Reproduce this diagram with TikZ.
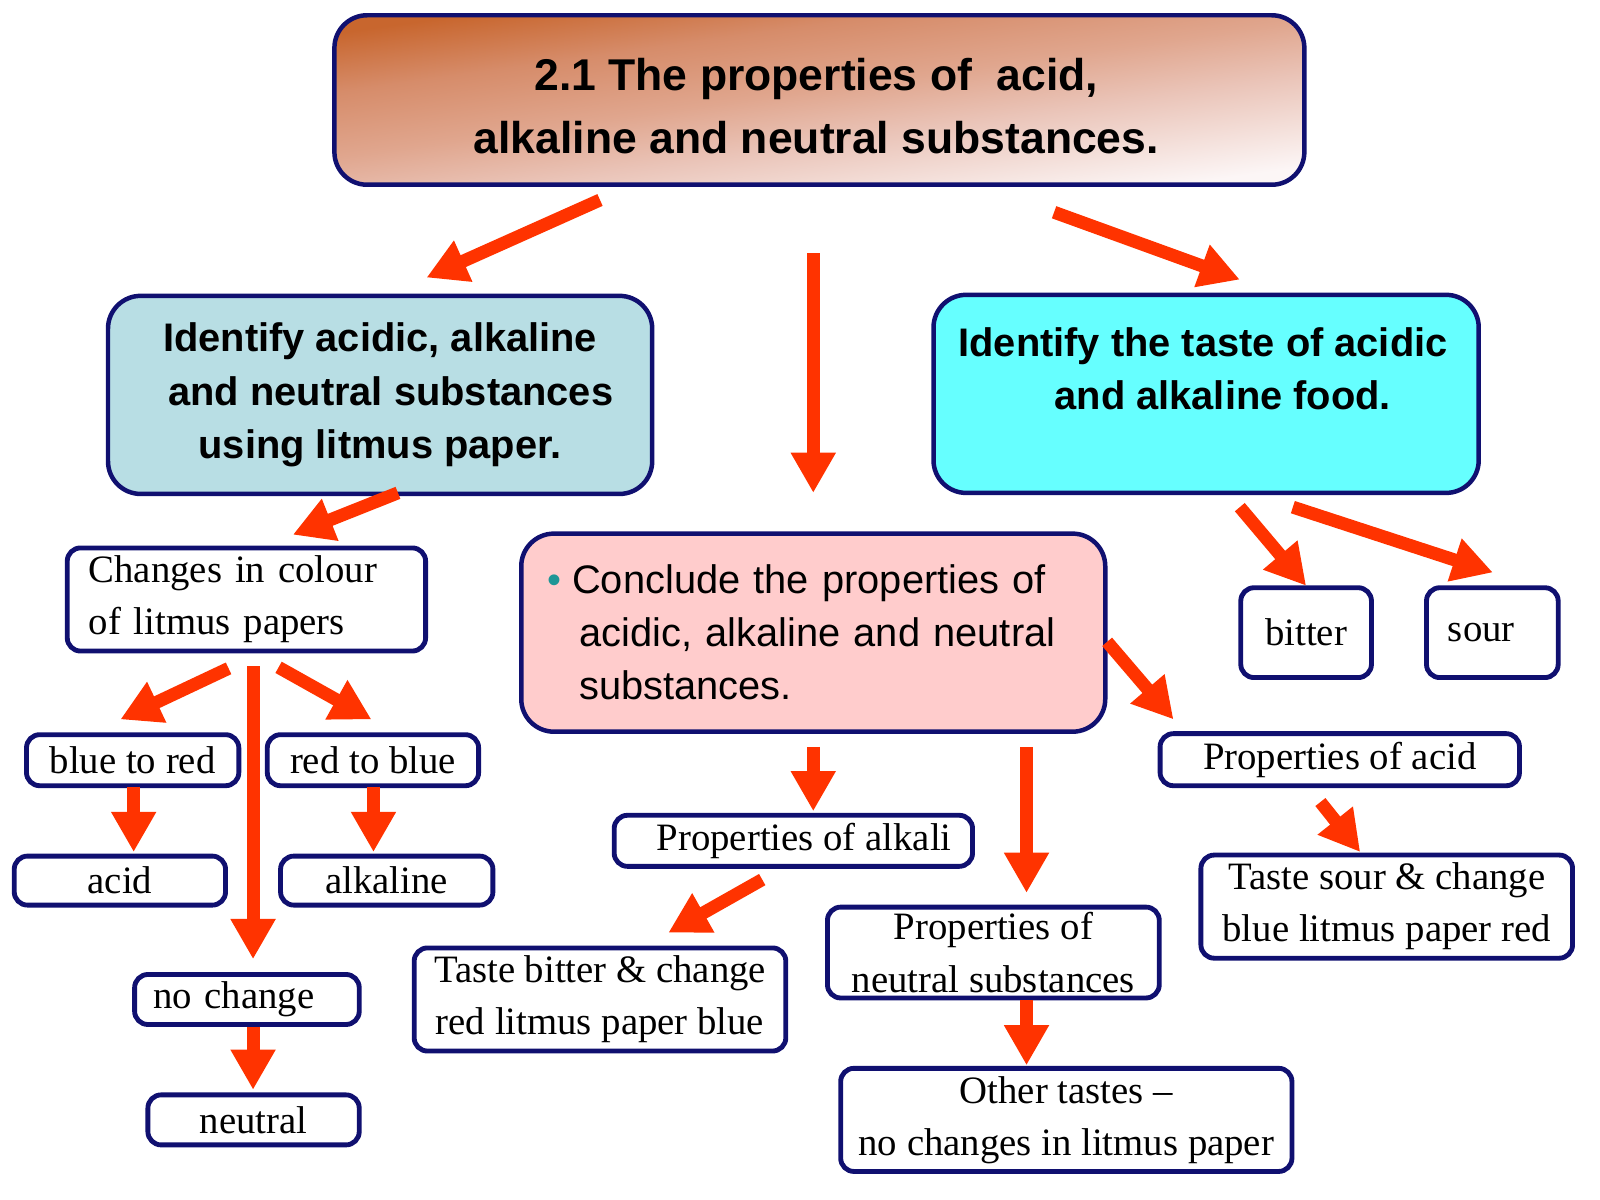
\documentclass[tikz,border=0pt]{standalone}
\usepackage{fontspec}
\setmainfont{Liberation Serif}
\newfontfamily\arialf{Liberation Sans}
\usetikzlibrary{arrows.meta}
\definecolor{navy}{RGB}{16,16,112}
\definecolor{arrowred}{RGB}{255,51,0}
\definecolor{boxblue}{RGB}{184,222,228}
\definecolor{boxcyan}{RGB}{102,255,255}
\definecolor{boxpink}{RGB}{255,204,204}
\definecolor{bulletc}{RGB}{30,150,150}
\definecolor{titleA}{RGB}{200,102,46}
\definecolor{titleS}{RGB}{214,140,106}
\definecolor{titleM}{RGB}{224,166,142}
\definecolor{titleL}{RGB}{234,196,184}
\definecolor{titleW}{RGB}{252,246,246}
\pgfdeclareverticalshading{titleshade}{100bp}{color(0bp)=(titleW); color(25bp)=(titleW); color(42bp)=(titleL); color(52bp)=(titleM); color(64bp)=(titleS); color(75bp)=(titleA); color(100bp)=(titleA)}
\newcommand\sansbold{\arialf\bfseries\fontsize{11.1}{14.8}\selectfont}
\newcommand\sansreg{\arialf\fontsize{11.1}{14.8}\selectfont}
\newcommand\seriftxt{\fontsize{10.8}{14.5}\selectfont}
\begin{document}
\begin{tikzpicture}[x=0.01cm,y=-0.01cm,
  bigbox/.style={draw=navy, line width=1.25pt, rounded corners=0.32cm, inner sep=0pt, align=center, font=\sansbold},
  wbox/.style={draw=navy, line width=1.35pt, fill=white, rounded corners=0.13cm, inner sep=0pt, align=center, font=\seriftxt},
  arr/.style={draw=arrowred, line width=3.6pt, -{Triangle[length=11.2pt,width=11.8pt]}},
]
\useasboundingbox (0,0) rectangle (1568,1176);

% main boxes
\node[bigbox, shade, shading=titleshade, shading angle=8,
      minimum width=9.50cm, minimum height=1.66cm] (title) at (803,98) {};
\node[font=\arialf\bfseries\fontsize{12.4}{17.4}\selectfont, align=center, inner sep=0pt] (titletext) at (800,104)
  {2.1 The properties of\ \ acid,\\alkaline and neutral substances.};
\node[bigbox, fill=boxblue, minimum width=5.33cm, minimum height=1.94cm] (ident) at (372.5,387)
  {Identify acidic, alkaline\\\hspace*{6pt}and neutral substances\\using litmus paper.};
\node[bigbox, fill=boxcyan, minimum width=5.34cm, minimum height=1.94cm] (taste) at (1182,386) {};
\node[font=\sansbold, align=center, inner sep=0pt] (tastetext) at (1179,361)
  {Identify the taste of acidic\\\hspace*{11pt}and alkaline food.};
\node[bigbox, fill=boxpink, minimum width=5.72cm, minimum height=1.94cm, font=\sansreg,
      align=left, text width=5.20cm] (concl) at (797,620)
  {\makebox[6.8pt][l]{\textcolor{bulletc}{•}}Conclude the properties of\\
   \hspace*{8.8pt}acidic, alkaline and neutral\\
   \hspace*{8.8pt}substances.};

% left branch
\node[wbox, minimum width=3.51cm, minimum height=1.01cm, align=left, text width=3.09cm] (changes) at (241.5,587.5)
  {Changes in colour\\of litmus papers};
\node[wbox, minimum width=2.08cm, minimum height=0.50cm] (b2r) at (130,745) {blue to red};
\node[wbox, minimum width=2.07cm, minimum height=0.50cm] (r2b) at (365.5,745) {red to blue};
\node[wbox, minimum width=2.07cm, minimum height=0.48cm] (acid) at (117.5,863) {acid};
\node[wbox, minimum width=2.08cm, minimum height=0.48cm] (alkaline) at (379,863) {alkaline};
\node[wbox, minimum width=2.20cm, minimum height=0.49cm, align=left, text width=1.84cm] (nochange) at (242,979.5) {no change};
\node[wbox, minimum width=2.07cm, minimum height=0.49cm] (neutral) at (248.5,1097.5) {neutral};

% centre branch
\node[wbox, minimum width=3.51cm, minimum height=0.50cm] (propalk) at (777.5,824) {\hspace*{6pt}Properties of\ alkali};
\node[wbox, minimum width=3.64cm, minimum height=1.01cm] (tastebit) at (588,979.5)
  {Taste bitter \& change\\red litmus paper blue};
\node[wbox, minimum width=3.25cm, minimum height=0.89cm] (propneu) at (973.5,933.5)
  {Properties of\\neutral substances};
\node[wbox, minimum width=4.42cm, minimum height=1.01cm] (other) at (1045,1097.5)
  {Other tastes –\\no changes in litmus paper};

% right branch
\node[wbox, minimum width=1.28cm, minimum height=0.88cm] (bitter) at (1280,620) {bitter};
\node[wbox, minimum width=1.29cm, minimum height=0.88cm, align=left, text width=0.87cm] (sour) at (1462.5,620) {sour};
\node[wbox, minimum width=3.52cm, minimum height=0.51cm] (propacid) at (1313,744.5) {Properties of\ acid};
\node[wbox, minimum width=3.64cm, minimum height=1.01cm] (tastesour) at (1359,888.5)
  {Taste sour \& change\\blue litmus paper red};

% arrow end points
\coordinate (a1s) at (588,196);   \coordinate (a1e) at (418,272);
\coordinate (a2s) at (797,248);   \coordinate (a2e) at (797,483);
\coordinate (a3s) at (1033,208);  \coordinate (a3e) at (1215,274);
\coordinate (a4s) at (390,483);   \coordinate (a4e) at (287,524);
\coordinate (a5s) at (224,655);   \coordinate (a5e) at (118,705);
\coordinate (a6s) at (248,653);   \coordinate (a6e) at (248,940);
\coordinate (a7s) at (273,654);   \coordinate (a7e) at (364,705);
\coordinate (a8s) at (131,771);   \coordinate (a8e) at (131,835);
\coordinate (a9s) at (366,771);   \coordinate (a9e) at (366,835);
\coordinate (a10s) at (248,1006); \coordinate (a10e) at (248,1068);
\coordinate (a11s) at (797,732);  \coordinate (a11e) at (797,795);
\coordinate (a12s) at (1006,732); \coordinate (a12e) at (1006,875);
\coordinate (a13s) at (1085,629); \coordinate (a13e) at (1150,705);
\coordinate (a14s) at (747,862);  \coordinate (a14e) at (655,914);
\coordinate (a15s) at (1006,980); \coordinate (a15e) at (1006,1044);
\coordinate (a16s) at (1215,497); \coordinate (a16e) at (1280,574);
\coordinate (a17s) at (1267,497); \coordinate (a17e) at (1463,561);
\coordinate (a18s) at (1294,786); \coordinate (a18e) at (1333,835);

\foreach \i in {1,...,18} {\draw[arr] (a\i s) -- (a\i e);}
\end{tikzpicture}
\end{document}
